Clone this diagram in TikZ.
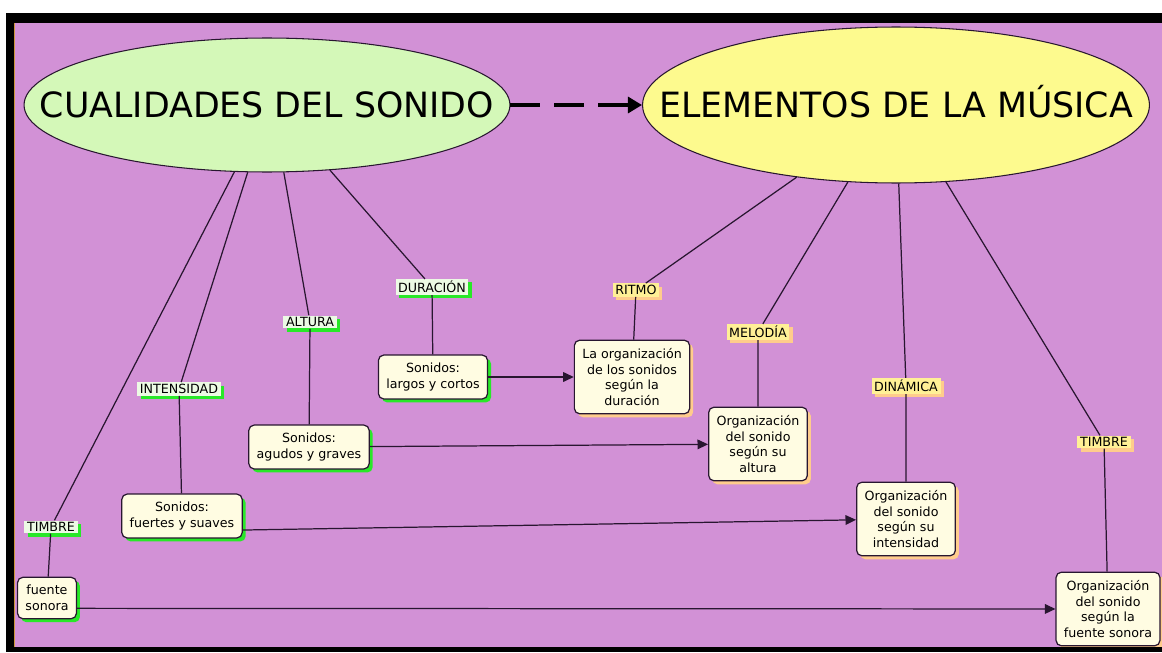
\documentclass[tikz,border=0pt]{standalone}
\usepackage{fontspec}
\setmainfont{DejaVu Sans}
\usepackage{tikz}
\usetikzlibrary{shapes.geometric}
\usetikzlibrary{arrows.meta}
\usetikzlibrary{shadows}
\usetikzlibrary{positioning}

\definecolor{fondo}{RGB}{210,145,214}
\definecolor{verdeel}{RGB}{212,248,184}
\definecolor{amarel}{RGB}{253,250,142}
\definecolor{crema}{RGB}{255,252,226}
\definecolor{sombraverde}{RGB}{40,232,40}
\definecolor{sombranaranja}{RGB}{255,204,140}
\definecolor{etqverde}{RGB}{236,250,228}
\definecolor{etqamarilla}{RGB}{255,240,150}
\definecolor{linea}{RGB}{40,22,48}
\definecolor{borde}{RGB}{205,150,60}

\newcommand{\titulo}[1]{\makebox[0pt]{\smash{#1}}\vphantom{E}}

\begin{document}
\begin{tikzpicture}[x=0.02cm,y=-0.02cm,
  elipse/.style={ellipse,draw=linea,line width=0.6pt,inner sep=0pt,font=\fontsize{19.8}{24}\selectfont},
  concepto/.style={rectangle,rounded corners=3pt,draw=linea,line width=0.7pt,fill=crema,align=center,inner xsep=4.5pt,inner ysep=4.5pt,font=\fontsize{7.2}{9}\selectfont},
  cverde/.style={concepto,drop shadow={shadow xshift=2pt,shadow yshift=-2pt,fill=sombraverde,opacity=1}},
  cnaranja/.style={concepto,drop shadow={shadow xshift=2pt,shadow yshift=-2pt,fill=sombranaranja,opacity=1}},
  enlace/.style={inner xsep=1.5pt,inner ysep=1pt,font=\fontsize{7.2}{9}\selectfont},
  everde/.style={enlace,fill=etqverde,drop shadow={shadow xshift=1.8pt,shadow yshift=-1.8pt,fill=sombraverde,opacity=1}},
  enaranja/.style={enlace,fill=etqamarilla,drop shadow={shadow xshift=1.8pt,shadow yshift=-1.8pt,fill=sombranaranja,opacity=1}},
  union/.style={draw=linea,line width=0.7pt},
  flecha/.style={union,-{Triangle[length=6pt,width=5.5pt]}},
  flechagrande/.style={draw=black,line width=2.8pt,dash pattern=on 17pt off 8pt,-{Triangle[length=8pt,width=9pt]}}]
  \useasboundingbox (0,0) rectangle (1162,652);
  \fill[white] (0,0) rectangle (1162,652);
  \fill[black] (6,13) rectangle (1162,23);
  \fill[black] (6,13) rectangle (14,652);
  \fill[fondo] (14,23) rectangle (1162,647);
  \draw[borde,line width=0.5pt] (14.5,23) -- (14.5,647);

  \node[elipse,fill=verdeel,minimum width=9.72cm,minimum height=2.68cm] (cual) at (267,105) {\titulo{CUALIDADES DEL SONIDO}};
  \node[elipse,fill=amarel,minimum width=10.14cm,minimum height=3.12cm] (elem) at (896,105) {\titulo{ELEMENTOS DE LA MÚSICA}};

  \node[everde] (timI) at (51,527) {TIMBRE};
  \node[everde] (int) at (179,389) {INTENSIDAD};
  \node[everde] (alt) at (310,322) {ALTURA};
  \node[everde] (dur) at (432,287) {DURACIÓN};

  \node[enaranja] (rit) at (636,290) {RITMO};
  \node[enaranja] (mel) at (758,332) {MELODÍA};
  \node[enaranja] (din) at (906,386) {DINÁMICA};
  \node[enaranja] (timD) at (1104,442) {TIMBRE};

  \node[cverde] (fuente) at (47,598) {fuente\\sonora};
  \node[cverde] (fuertes) at (182,516) {Sonidos:\\fuertes y suaves};
  \node[cverde] (agudos) at (309,447) {Sonidos:\\agudos y graves};
  \node[cverde] (largos) at (433,377) {Sonidos:\\largos y cortos};

  \node[cnaranja] (orgDur) at (632,377) {La organización\\de los sonidos\\según la\\duración};
  \node[cnaranja] (orgAlt) at (758,444) {Organización\\del sonido\\según su\\altura};
  \node[cnaranja] (orgInt) at (906,519) {Organización\\del sonido\\según su\\intensidad};
  \node[cnaranja] (orgFue) at (1108,609) {Organización\\del sonido\\según la\\fuente sonora};

  \draw[flechagrande] (cual) -- (elem);

  \draw[union] (cual.244) -- (timI) -- (fuente);
  \draw[union] (cual.254) -- (int) -- (fuertes);
  \draw[union] (cual.284) -- (alt) -- (agudos);
  \draw[union] (cual.314) -- (dur) -- (largos);
  \draw[union] (elem.216) -- (rit) -- (orgDur);
  \draw[union] (elem.238) -- (mel) -- (orgAlt);
  \draw[union] (elem.272) -- (din) -- (orgInt);
  \draw[union] (elem.303) -- (timD) -- (orgFue);

  \draw[flecha] (largos) -- (orgDur);
  \draw[flecha] (agudos) -- (orgAlt);
  \draw[flecha] (fuertes.-13) -- (orgInt);
  \draw[flecha] (fuente.-19) -- (orgFue);

  \fill[black] (6,647) rectangle (1162,652);
\end{tikzpicture}
\end{document}
